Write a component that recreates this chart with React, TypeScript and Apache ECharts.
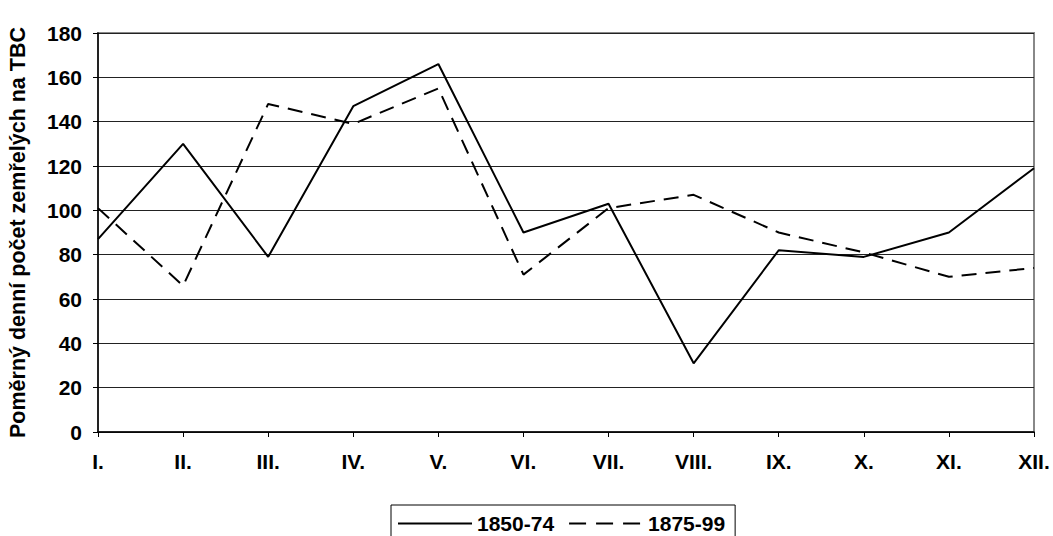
import React, { useEffect, useRef } from "react";
import * as echarts from "echarts";

const months = ["I.", "II.", "III.", "IV.", "V.", "VI.", "VII.", "VIII.", "IX.", "X.", "XI.", "XII."];
const series1850 = [87, 130, 79, 147, 166, 90, 103, 31, 82, 79, 90, 119];
const series1875 = [101, 66, 148, 139, 155, 71, 101, 107, 90, 81, 70, 74];
const yName = "Poměrný denní počet zemřelých na TBC";

export default function App() {
  const ref = useRef<HTMLDivElement>(null);
  useEffect(() => {
    const chart = echarts.init(ref.current!, null, { renderer: "svg" });
    const font = "Arial, 'Liberation Sans', sans-serif";
    chart.setOption({
      animation: false,
      backgroundColor: "#fff",
      textStyle: { fontFamily: font },
      grid: {
        left: 98, right: 19, top: 33, bottom: 104,
        show: true, borderColor: "#888", borderWidth: 2,
        containLabel: false, outerBoundsMode: "none",
      },
      xAxis: {
        type: "category",
        data: months,
        boundaryGap: false,
        axisLine: { lineStyle: { color: "#000", width: 1.5 } },
        axisTick: { show: true, length: 5, lineStyle: { color: "#000" } },
        axisLabel: { color: "#000", fontWeight: "bold", fontSize: 21, fontFamily: font, margin: 19, interval: 0 },
      },
      yAxis: {
        type: "value",
        min: 0,
        max: 180,
        interval: 20,
        name: yName,
        nameLocation: "middle",
        nameGap: 69,
        nameTextStyle: { color: "#000", fontWeight: "bold", fontSize: 21.5, fontFamily: font },
        axisLine: { show: true, lineStyle: { color: "#000", width: 1.5 } },
        axisTick: { show: true, length: 5, lineStyle: { color: "#000" } },
        axisLabel: { color: "#000", fontWeight: "bold", fontSize: 21, fontFamily: font, margin: 16 },
        splitLine: { show: true, lineStyle: { color: "#222", width: 1 } },
      },
      legend: {
        top: 505,
        left: 391,
        itemWidth: 74,
        itemHeight: 14,
        itemGap: 14,
        borderColor: "#000",
        borderWidth: 1,
        padding: [8, 10, 20, 6],
        itemStyle: { opacity: 0 },
        textStyle: { color: "#000", fontWeight: "bold", fontSize: 21, fontFamily: font },
        data: [
          { name: "1850-74", lineStyle: { type: "solid", width: 2 } },
          { name: "1875-99", lineStyle: { type: [17, 10], width: 2 } },
        ],
      },
      series: [
        {
          name: "1850-74",
          type: "line",
          data: series1850,
          symbol: "none",
          lineStyle: { color: "#000", width: 2, type: "solid" },
          itemStyle: { color: "#000" },
        },
        {
          name: "1875-99",
          type: "line",
          data: series1875,
          symbol: "none",
          lineStyle: { color: "#000", width: 2, type: [15, 9] },
          itemStyle: { color: "#000" },
        },
      ],
    });
    return () => chart.dispose();
  }, []);
  return (
    <div
      ref={ref}
      style={{ position: "absolute", left: 0, top: 0, width: 1053, height: 536, overflow: "hidden" }}
    />
  );
}
